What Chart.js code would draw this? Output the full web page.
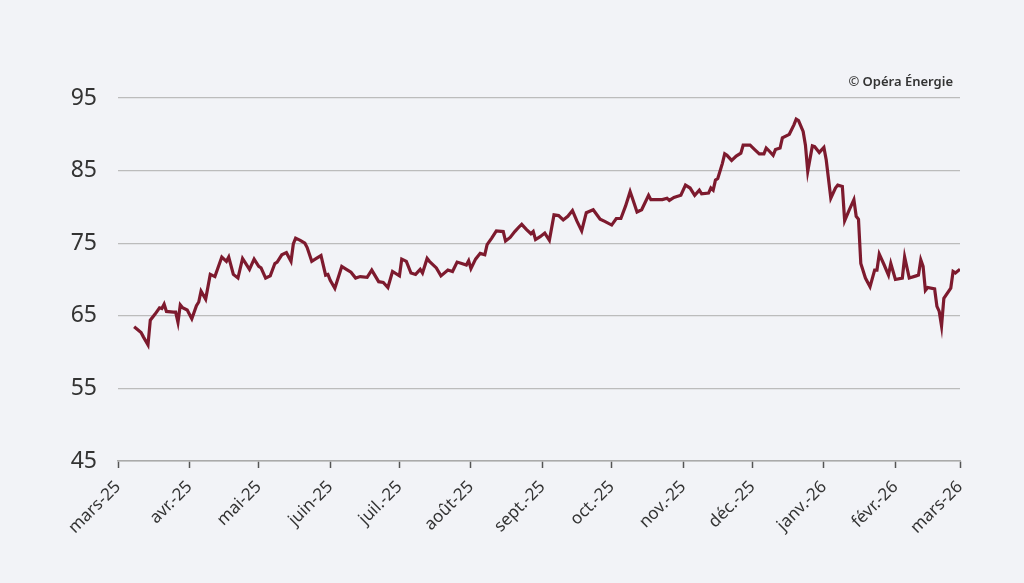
<!DOCTYPE html>
<html lang="fr">
<head>
<meta charset="utf-8">
<script src="https://cdn.jsdelivr.net/npm/chart.js@4.4.1/dist/chart.umd.min.js"></script>
<style>
  html, body { margin: 0; padding: 0; background: #f2f3f7; }
  #chart { display: block; }
</style>
</head>
<body>
<canvas id="chart" width="1024" height="583"></canvas>
<script>
// jours depuis le 1er mars 2025
const days = [
  7, 10, 11, 13, 14, 16, 18, 19, 20, 21, 24, 25, 26, 27, 28, 30, 32, 34, 35, 36,
  38, 40, 42, 45, 47, 48, 50, 52, 54, 55, 57, 59, 61, 62, 64, 66, 68, 69, 71, 73,
  75, 76, 77, 79, 81, 82, 84, 86, 88, 90, 91, 92, 94, 97, 99, 101, 103, 105, 108, 110,
  113, 115, 117, 119, 122, 123, 125, 127, 129, 131, 132, 134, 135, 138, 140, 143, 145, 147, 149, 151,
  152, 153, 155, 157, 159, 160, 162, 164, 167, 168, 170, 172, 174, 175, 177, 179, 180, 181, 183, 185,
  187, 189, 191, 193, 195, 197, 199, 201, 203, 206, 209, 211, 214, 216, 218, 220, 222, 223, 225, 227,
  230, 231, 236, 238, 239, 241, 244, 246, 248, 250, 252, 253, 256, 257, 258, 259, 260, 262, 263, 264,
  266, 268, 270, 271, 274, 276, 278, 280, 281, 282, 284, 285, 287, 288, 291, 293, 294, 295, 297, 298,
  299, 301, 302, 304, 306, 307, 309, 311, 312, 314, 315, 317, 319, 320, 321, 322, 324, 326, 328, 329,
  330, 332, 334, 335, 337, 340, 341, 343, 346, 347, 348, 349, 350, 351, 354, 355, 356, 357, 358, 361,
  362, 363, 365
];
const prices = [
  63.5, 62.7, 62.1, 61.0, 64.4, 65.2, 66.1, 66.0, 66.6, 65.6, 65.5, 65.5, 64.1, 66.5, 66.1, 65.8, 64.6, 66.4, 66.9, 68.4,
  67.3, 70.7, 70.4, 73.1, 72.5, 73.1, 70.7, 70.2, 72.9, 72.4, 71.4, 72.8, 71.8, 71.6, 70.2, 70.5, 72.2, 72.4, 73.4, 73.7,
  72.5, 74.9, 75.7, 75.4, 75.0, 74.4, 72.5, 72.9, 73.3, 70.6, 70.7, 69.9, 68.8, 71.8, 71.4, 71.0, 70.2, 70.4, 70.3, 71.3,
  69.7, 69.6, 68.9, 71.1, 70.5, 72.8, 72.5, 70.9, 70.7, 71.4, 70.9, 72.9, 72.5, 71.6, 70.5, 71.3, 71.1, 72.4, 72.2, 72.0,
  72.6, 71.5, 72.8, 73.6, 73.4, 74.8, 75.7, 76.7, 76.6, 75.3, 75.8, 76.6, 77.3, 77.6, 76.9, 76.3, 76.6, 75.5, 75.9, 76.4,
  75.4, 78.9, 78.8, 78.2, 78.7, 79.5, 78.0, 76.7, 79.2, 79.6, 78.3, 78.0, 77.5, 78.4, 78.4, 80.1, 82.1, 81.2, 79.3, 79.6,
  81.6, 81.0, 81.0, 81.2, 80.9, 81.3, 81.6, 83.0, 82.6, 81.6, 82.3, 81.8, 81.9, 82.6, 82.3, 83.7, 83.9, 86.0, 87.3, 87.1,
  86.4, 87.0, 87.4, 88.5, 88.5, 87.9, 87.3, 87.3, 88.1, 87.8, 87.1, 87.9, 88.1, 89.5, 90.0, 91.3, 92.1, 91.9, 90.4, 88.5,
  84.9, 88.4, 88.3, 87.5, 88.2, 86.5, 81.2, 82.6, 83.0, 82.8, 78.1, 79.6, 81.0, 78.7, 78.3, 72.2, 70.2, 69.0, 71.3, 71.3,
  73.5, 72.1, 70.6, 72.2, 70.0, 70.2, 73.1, 70.2, 70.5, 70.6, 72.7, 71.8, 68.5, 68.9, 68.7, 66.3, 65.6, 63.6, 67.4, 68.8,
  71.1, 70.9, 71.4
];

const monthStarts = [0, 31, 61, 92, 122, 153, 184, 214, 245, 275, 306, 337, 365];
const monthLabels = [
  "mars-25", "avr.-25", "mai-25", "juin-25", "juil.-25", "août-25", "sept.-25",
  "oct.-25", "nov.-25", "déc.-25", "janv.-26", "févr.-26", "mars-26"
];
const yTicks = [45, 55, 65, 75, 85, 95];

const points = days.map(function (d, i) {
  return { x: d, y: prices[i] };
});

const credit = {
  id: "credit",
  afterDraw: function (chart) {
    const ctx = chart.ctx;
    ctx.save();
    ctx.font = "600 13px 'Noto Sans'";
    ctx.fillStyle = "#333";
    ctx.textAlign = "right";
    ctx.textBaseline = "alphabetic";
    ctx.fillText("© Opéra Énergie", 953, 86);
    ctx.restore();
  },
};

const config = {
  type: "line",
  data: {
    datasets: [
      {
        label: "Prix",
        data: points,
        borderColor: "#7d1a2e",
        borderWidth: 3.2,
        pointRadius: 0,
        tension: 0,
        fill: false,
      },
    ],
  },
  options: {
    responsive: false,
    animation: false,
    layout: {
      padding: { left: 0, right: 64, top: 98, bottom: 0 },
    },
    plugins: {
      legend: { display: false },
      tooltip: { enabled: false },
    },
    scales: {
      x: {
        type: "linear",
        min: 0,
        max: 365,
        afterBuildTicks: function (scale) {
          scale.ticks = monthStarts.map(function (v) {
            return { value: v };
          });
        },
        afterFit: function (scale) {
          scale.height = 122;
        },
        grid: {
          drawOnChartArea: false,
          drawTicks: true,
          tickLength: 7,
          tickColor: "#555",
          tickWidth: 1.5,
        },
        border: { display: true, color: "#aaa", width: 1.5 },
        ticks: {
          autoSkip: false,
          minRotation: 45,
          maxRotation: 45,
          padding: 9,
          color: "#333",
          font: { family: "'Noto Sans'", size: 17 },
          callback: function (value, index) {
            return monthLabels[index];
          },
        },
      },
      y: {
        min: 45,
        max: 95,
        afterBuildTicks: function (scale) {
          scale.ticks = yTicks.map(function (v) {
            return { value: v };
          });
        },
        afterFit: function (scale) {
          scale.width = 118;
        },
        grid: {
          color: "#bcbcbc",
          lineWidth: 1.2,
          drawTicks: false,
        },
        border: { display: false },
        ticks: {
          padding: 21,
          color: "#333",
          font: { family: "'Noto Sans'", size: 23 },
        },
      },
    },
  },
  plugins: [credit],
};

new Chart("chart", config);
</script>
</body>
</html>
